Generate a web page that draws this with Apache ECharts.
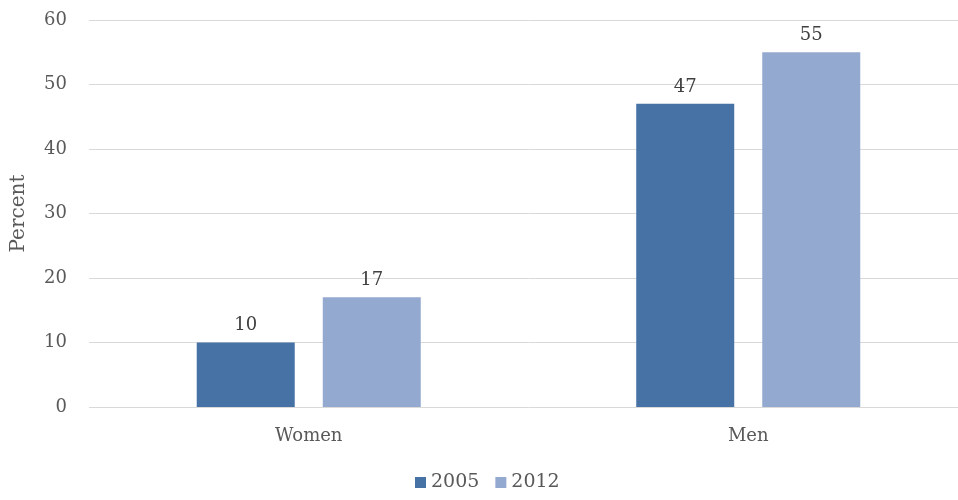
<!DOCTYPE html>
<html>
<head>
<meta charset="utf-8">
<script src="https://cdn.jsdelivr.net/npm/echarts@6/dist/echarts.min.js"></script>
<style>html,body{margin:0;padding:0;background:#fff;overflow:hidden;width:958px;height:500px;}#c{width:968px;height:500px;}</style>
</head>
<body>
<div id="c"></div>
<script>
var categories = ['Women', 'Men'];
var values2005 = [10, 47];
var values2012 = [17, 55];
var yTicks = [0, 10, 20, 30, 40, 50, 60];

var font = 'DejaVu Serif, Liberation Serif, serif';
var chart = echarts.init(document.getElementById('c'));
chart.setOption({
  animation: false,
  backgroundColor: '#fff',
  textStyle: { fontFamily: font },
  grid: { left: 89, top: 20, right: 0, bottom: 93, containLabel: false },
  legend: {
    bottom: 3, left: 410,
    itemWidth: 11, itemHeight: 11, itemGap: 16,
    icon: 'rect',
    textStyle: { fontFamily: font, fontSize: 19, color: '#595959', padding: [0, 0, 0, 0] },
    data: ['2005', '2012']
  },
  xAxis: {
    type: 'category', data: categories,
    axisLine: { show: false }, axisTick: { show: false },
    axisLabel: { fontFamily: font, fontSize: 18, color: '#595959', margin: 20 }
  },
  yAxis: {
    type: 'value', min: yTicks[0], max: yTicks[yTicks.length - 1], interval: 10,
    name: 'Percent', nameLocation: 'middle', nameGap: 60, nameRotate: 90,
    nameTextStyle: { fontFamily: font, fontSize: 20, color: '#595959' },
    axisLine: { show: false }, axisTick: { show: false },
    axisLabel: { fontFamily: font, fontSize: 18, color: '#595959', margin: 22 },
    splitLine: { lineStyle: { color: '#d9d9d9', width: 1 } }
  },
  series: [
    { name: '2005', type: 'bar', data: values2005, barWidth: 98, barGap: '28.6%',
      itemStyle: { color: '#4672a6' },
      label: { show: true, position: 'top', distance: 8, fontFamily: font, fontSize: 18, color: '#404040' } },
    { name: '2012', type: 'bar', data: values2012, barWidth: 98,
      itemStyle: { color: '#93a9cf' },
      label: { show: true, position: 'top', distance: 8, fontFamily: font, fontSize: 18, color: '#404040' } }
  ]
});
</script>
</body>
</html>
